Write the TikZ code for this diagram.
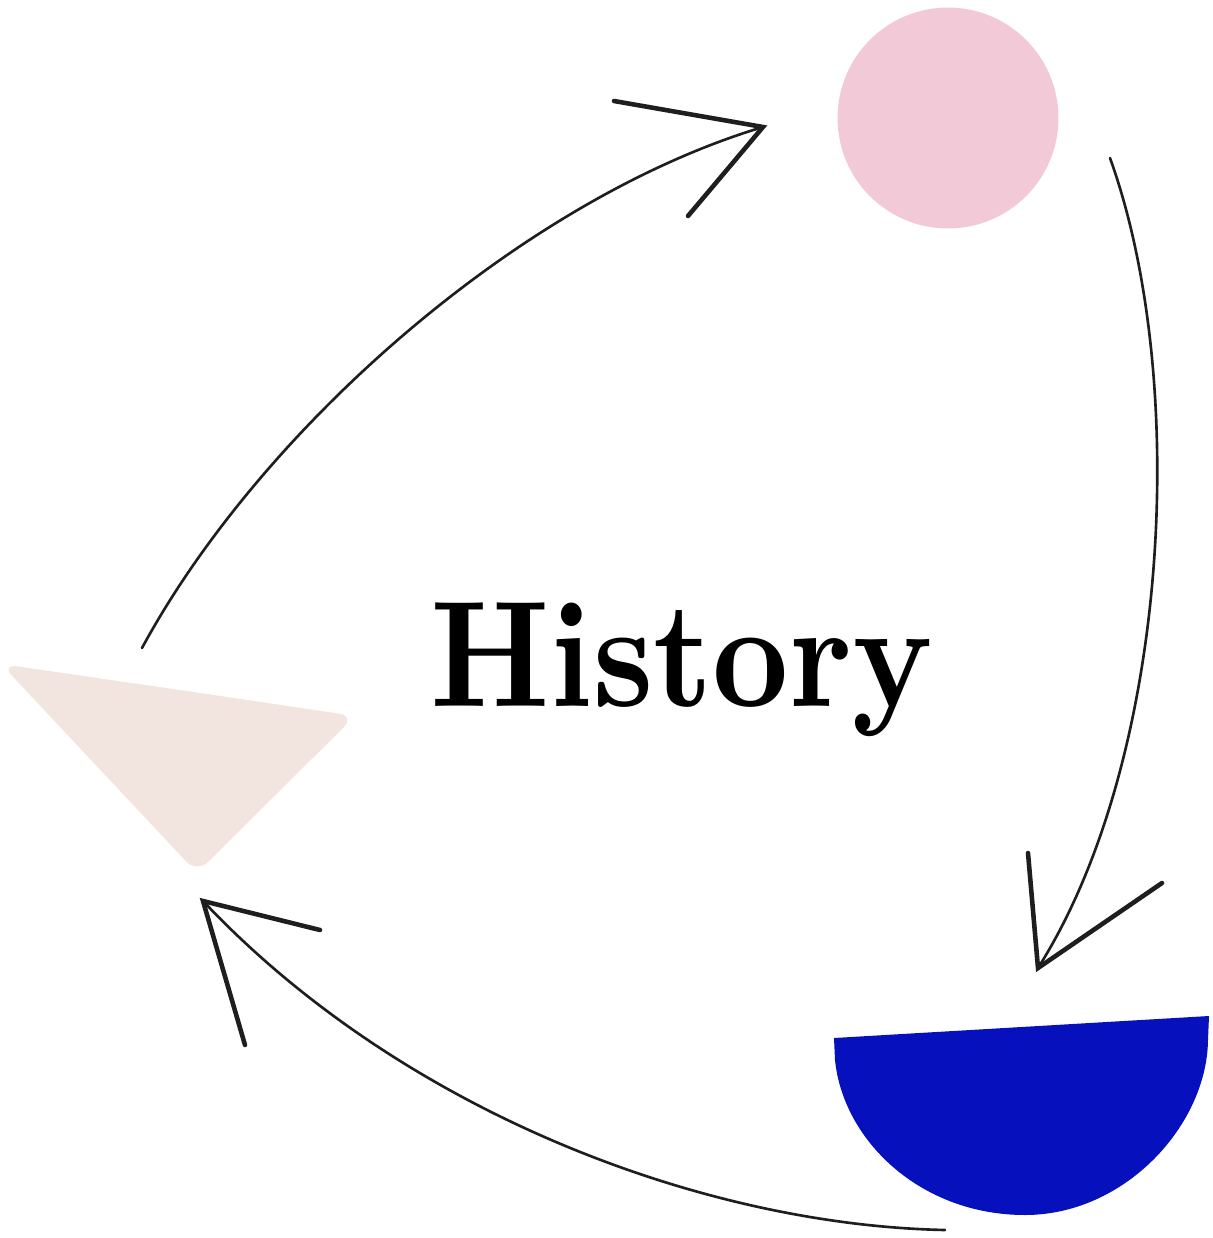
\documentclass[tikz,border=0pt]{standalone}
\usepackage{fontspec}
\newfontfamily\titlefont{lmroman10-bold.otf}
\usetikzlibrary{positioning}
\definecolor{hsRose}{HTML}{F2C9D6}
\definecolor{hsSand}{HTML}{F2E5DF}
\definecolor{hsBlue}{HTML}{0610BD}
\definecolor{hsInk}{HTML}{1E1E1E}

\begin{document}
\begin{tikzpicture}[x=0.02cm,y=-0.02cm,
    shaft/.style={draw=hsInk,line width=1.5pt,line cap=round},
    barb/.style={draw=hsInk,line width=2.6pt,line cap=round,line join=miter}]
  \useasboundingbox (0,0) rectangle (1213,1238);

  % the three blobs
  \node[circle,fill=hsRose,minimum size=4.42cm,inner sep=0pt] (rose) at (948,118) {};
  \fill[hsSand,rounded corners=9pt] (1,664) -- (180,690) -- (355,716) -- (197,873) -- cycle;
  \fill[hsBlue] (834,1038) -- (1209,1016) -- (1208,1040)
    .. controls (1207,1125) and (1125,1215) .. (1025,1215)
    .. controls (920,1215) and (843,1140) .. (835,1060) -- cycle;

  \node[font=\titlefont\fontsize{86}{86}\selectfont,anchor=base,inner sep=0pt]
    (title) at (682,706) {\scalebox{0.88}[1]{History}};

  % ends of the three arrows
  \coordinate (from1) at (142,648);  \coordinate (tip1) at (763,127);
  \coordinate (from2) at (1110,158); \coordinate (tip2) at (1038,968);
  \coordinate (from3) at (945,1230); \coordinate (tip3) at (203,901);
  \coordinate (wa1) at (614,101);  \coordinate (wb1) at (688,216);
  \coordinate (wa2) at (1028,853); \coordinate (wb2) at (1162,883);
  \coordinate (wa3) at (320,930);  \coordinate (wb3) at (245,1045);

  \draw[shaft] (from1) .. controls (260,430) and (520,200) .. (tip1);
  \draw[shaft] (from2) .. controls (1190,380) and (1170,760) .. (tip2);
  \draw[shaft] (from3) .. controls (700,1225) and (400,1110) .. (tip3);

  \foreach \t/\a/\b in {tip1/wa1/wb1,tip2/wa2/wb2,tip3/wa3/wb3}
    \draw[barb] (\a) -- (\t) -- (\b);
\end{tikzpicture}
\end{document}
